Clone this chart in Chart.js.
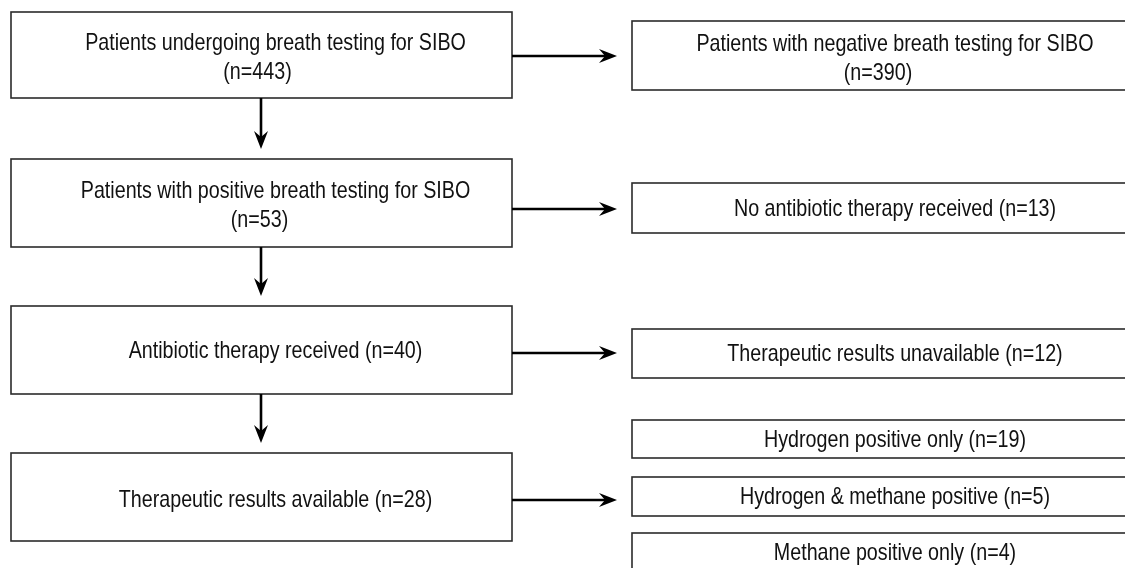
<!DOCTYPE html>
<html>
<head>
<meta charset="utf-8">
<script src="https://cdn.jsdelivr.net/npm/chart.js@4.4.1/dist/chart.umd.min.js"></script>
<style>
  html, body { margin: 0; padding: 0; background: #ffffff; }
  #wrap { width: 1125px; height: 568px; position: relative; }
</style>
</head>
<body>
<div id="wrap"><canvas id="c" width="1125" height="568"></canvas></div>
<script>
// ---- Data (flow stages and counts) ----
const mainSteps = [
  'Patients undergoing breath testing for SIBO',
  'Patients with positive breath testing for SIBO',
  'Antibiotic therapy received',
  'Therapeutic results available'
];
const mainCounts = [443, 53, 40, 28];
const mainCountOnNewLine = [true, true, false, false];

const sideSteps = [
  'Patients with negative breath testing for SIBO',
  'No antibiotic therapy received',
  'Therapeutic results unavailable'
];
const sideCounts = [390, 13, 12];
const sideCountOnNewLine = [true, false, false];

const subgroupLabels = [
  'Hydrogen positive only',
  'Hydrogen & methane positive',
  'Methane positive only'
];
const subgroupCounts = [19, 5, 4];

// ---- Layout (canvas units) ----
const W = 1125, H = 568;
const layout = {
  mainX: [11, 512],
  mainY: [[12, 98], [159, 247], [306, 394], [453, 541]],
  mainLineDx: [[14, -4], [14, -2], [14], [14]],
  mainDy: [2, 2, 0, 2],
  sideX: [632, 1158],
  sideY: [[21, 90], [183, 233], [329, 378]],
  sideLineDx: [[0, -17], [0], [0]],
  subY: [[420, 458], [477, 516], [533, 572]],
  vArrowX: 261,
  hArrowTipX: 617,
  hArrowY: [56, 209, 353, 500],
  lineGap: 29,
  font: '24px "Liberation Sans", Arial, sans-serif',
  squeeze: 0.82
};

function label(text, n) { return text + ' (n=' + n + ')'; }

const flowPlugin = {
  id: 'flow',
  afterDraw(chart) {
    const ctx = chart.ctx;
    const xs = chart.scales.x, ys = chart.scales.y;
    const px = v => xs.getPixelForValue(v);
    const py = v => ys.getPixelForValue(v);

    function box(x0, x1, y0, y1) {
      ctx.save();
      ctx.strokeStyle = '#2b2b2b';
      ctx.lineWidth = 1.6;
      ctx.strokeRect(px(x0), py(y0), px(x1) - px(x0), py(y1) - py(y0));
      ctx.restore();
    }
    function text(str, cx, cy) {
      ctx.save();
      ctx.font = layout.font;
      ctx.fillStyle = '#111111';
      ctx.textAlign = 'center';
      ctx.textBaseline = 'middle';
      ctx.translate(px(cx), py(cy));
      ctx.scale(layout.squeeze, 1);
      ctx.fillText(str, 0, 0);
      ctx.restore();
    }
    function boxText(lines, x0, x1, y0, y1, dxs, dy) {
      const cx = (x0 + x1) / 2, cy = (y0 + y1) / 2 + 1 + (dy || 0);
      const n = lines.length;
      lines.forEach((s, i) => text(s, cx + ((dxs && dxs[i]) || 0), cy + (i - (n - 1) / 2) * layout.lineGap));
    }
    function arrow(x0, y0, x1, y1) {
      const a = px(x0), b = py(y0), c = px(x1), d = py(y1);
      const ang = Math.atan2(d - b, c - a);
      const L = 18, Wd = 7, notch = 12;
      const cos = Math.cos(ang), sin = Math.sin(ang);
      ctx.save();
      ctx.strokeStyle = '#000';
      ctx.fillStyle = '#000';
      ctx.lineWidth = 2.6;
      ctx.beginPath();
      ctx.moveTo(a, b);
      ctx.lineTo(c - cos * notch, d - sin * notch);
      ctx.stroke();
      ctx.beginPath();
      ctx.moveTo(c, d);
      ctx.lineTo(c - cos * L - sin * Wd, d - sin * L + cos * Wd);
      ctx.lineTo(c - cos * notch, d - sin * notch);
      ctx.lineTo(c - cos * L + sin * Wd, d - sin * L - cos * Wd);
      ctx.closePath();
      ctx.fill();
      ctx.restore();
    }

    // main column
    mainSteps.forEach((s, i) => {
      const [y0, y1] = layout.mainY[i];
      box(layout.mainX[0], layout.mainX[1], y0, y1);
      const lines = mainCountOnNewLine[i] ? [s, '(n=' + mainCounts[i] + ')'] : [label(s, mainCounts[i])];
      boxText(lines, layout.mainX[0], layout.mainX[1], y0, y1, layout.mainLineDx[i], layout.mainDy[i]);
      if (i < mainSteps.length - 1) {
        arrow(layout.vArrowX, y1, layout.vArrowX, layout.mainY[i + 1][0] - 10);
      }
      arrow(layout.mainX[1], layout.hArrowY[i], layout.hArrowTipX, layout.hArrowY[i]);
    });
    // side column
    sideSteps.forEach((s, i) => {
      const [y0, y1] = layout.sideY[i];
      box(layout.sideX[0], layout.sideX[1], y0, y1);
      const lines = sideCountOnNewLine[i] ? [s, '(n=' + sideCounts[i] + ')'] : [label(s, sideCounts[i])];
      boxText(lines, layout.sideX[0], layout.sideX[1], y0, y1, layout.sideLineDx[i], sideCountOnNewLine[i] ? 2 : 0);
    });
    // subgroups
    subgroupLabels.forEach((s, i) => {
      const [y0, y1] = layout.subY[i];
      box(layout.sideX[0], layout.sideX[1], y0, y1);
      boxText([label(s, subgroupCounts[i])], layout.sideX[0], layout.sideX[1], y0, y1);
    });
  }
};

new Chart(document.getElementById('c'), {
  type: 'scatter',
  data: { datasets: [{ data: [], showLine: false }] },
  options: {
    responsive: false,
    animation: false,
    devicePixelRatio: 1,
    layout: { padding: 0 },
    plugins: { legend: { display: false }, tooltip: { enabled: false } },
    scales: {
      x: { type: 'linear', min: 0, max: W, display: false },
      y: { type: 'linear', min: 0, max: H, reverse: true, display: false }
    }
  },
  plugins: [flowPlugin]
});
</script>
</body>
</html>
